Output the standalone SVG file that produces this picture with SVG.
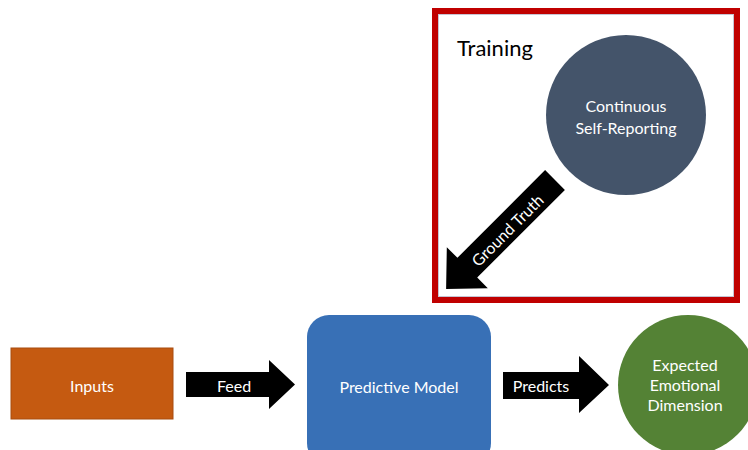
<svg xmlns="http://www.w3.org/2000/svg" width="748" height="450" viewBox="0 0 748 450">
<style>
text{font-family:Lato,"Open Sans","Liberation Sans",sans-serif;}
.w{fill:#ffffff;font-size:16px;text-anchor:middle;dominant-baseline:central;}
.arrow{fill:#000000;}
</style>
<rect width="748" height="450" fill="#ffffff"/>
<g id="training">
<rect x="435" y="11" width="302" height="289" fill="#ffffff" stroke="#C00000" stroke-width="6"/>
<rect x="438.5" y="14.5" width="295" height="282" fill="none" stroke="#8E8AA8" stroke-width="1" opacity="0.5"/>
<text x="457" y="56" font-size="22" fill="#000000">Training</text>
</g>
<g id="self-reporting">
<circle cx="626" cy="115" r="80" fill="#44546A"/>
<text class="w" x="626" y="105">Continuous</text>
<text class="w" x="626" y="127">Self-Reporting</text>
</g>
<g id="inputs">
<rect x="11" y="348" width="162" height="71" fill="#C55A11" stroke="#A84C10" stroke-width="1"/>
<text class="w" x="92" y="385">Inputs</text>
</g>
<g id="predictive-model">
<rect x="307" y="315" width="184" height="150" rx="22" fill="#3870B6"/>
<text class="w" x="399" y="386">Predictive Model</text>
</g>
<g id="expected">
<circle cx="688" cy="385" r="70" fill="#548235"/>
<text class="w" x="685" y="364" font-size="17.5">Expected</text>
<text class="w" x="685" y="384" font-size="17.5">Emotional</text>
<text class="w" x="685" y="404" font-size="17.5">Dimension</text>
</g>
<g id="connectors">
<g id="ground-truth">
<polygon class="arrow" transform="translate(555,180) rotate(135)" points="0,-14 124,-14 124,-29 154,0 124,29 124,14 0,14"/>
<text class="w" transform="translate(507,230) rotate(-45)" x="0" y="0" font-size="14.5">Ground Truth</text>
</g>
<g id="feed">
<polygon class="arrow" points="186,372 269,372 269,360 295,384.5 269,409 269,397 186,397"/>
<text class="w" x="234" y="385">Feed</text>
</g>
<g id="predicts">
<polygon class="arrow" points="503,372 579,372 579,356 609,385 579,413 579,399 503,399"/>
<text class="w" x="541" y="385">Predicts</text>
</g>
</g>
</svg>
